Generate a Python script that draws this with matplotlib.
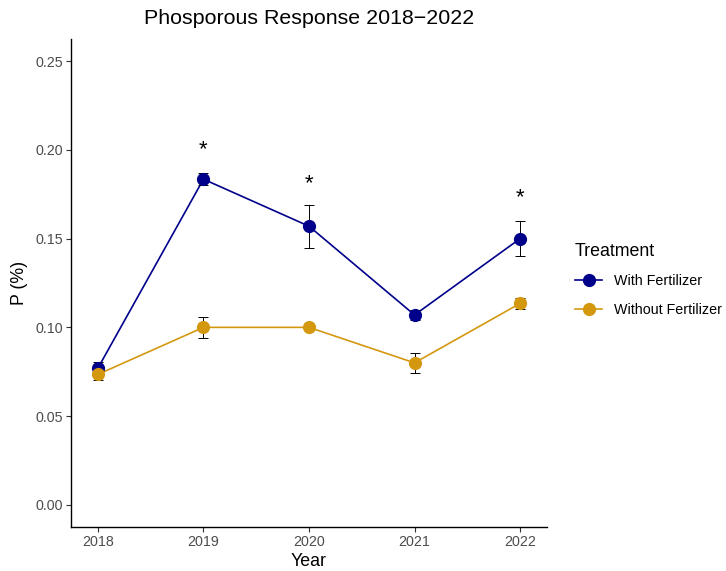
import matplotlib
matplotlib.use("Agg")
import matplotlib.pyplot as plt
from matplotlib.lines import Line2D

plt.rcParams['font.family'] = ['Liberation Sans', 'DejaVu Sans']

years = [2018, 2019, 2020, 2021, 2022]
with_fert = [0.077, 0.1835, 0.157, 0.107, 0.150]
with_fert_se = [0.0035, 0.0035, 0.012, 0.003, 0.010]
without_fert = [0.0735, 0.100, 0.100, 0.080, 0.1135]
without_fert_se = [0.003, 0.0058, 0.0008, 0.0058, 0.003]
star_years = [2019, 2020, 2022]
star_y = [0.2, 0.181, 0.173]
yticks = [0.00, 0.05, 0.10, 0.15, 0.20, 0.25]
ytick_labels = ["0.00", "0.05", "0.10", "0.15", "0.20", "0.25"]

c_with = "#00008B"
c_without = "#D4980F"

fig = plt.figure(figsize=(7.26, 5.71), dpi=100)
ax = fig.add_axes([71/726, 1-527/571, (547-71)/726, (527-39)/571])

for vals, se, col in [(with_fert, with_fert_se, c_with), (without_fert, without_fert_se, c_without)]:
    ax.plot(years, vals, color=col, lw=1.2, zorder=2)
    ax.errorbar(years, vals, yerr=se, fmt='none', ecolor='black', elinewidth=0.7,
                capsize=3.8, capthick=0.7, zorder=3)
    ax.plot(years, vals, 'o', color=col, ms=9.5, zorder=4, markeredgewidth=0)

for x, y in zip(star_years, star_y):
    ax.text(x, y, "*", ha='center', va='center', fontsize=16, color='black')

ax.set_xlim(2017.745, 2022.255)
ax.set_ylim(-0.0125, 0.2625)
ax.set_xticks(years)
ax.set_xticklabels([str(y) for y in years])
ax.set_yticks(yticks)
ax.set_yticklabels(ytick_labels)
ax.tick_params(axis='both', direction='out', length=3.5, width=0.8, color='#333333',
               labelsize=10.3, labelcolor='#4D4D4D', pad=2.5)
for s in ['top', 'right']:
    ax.spines[s].set_visible(False)
for s in ['left', 'bottom']:
    ax.spines[s].set_linewidth(1.0)
    ax.spines[s].set_color('black')

ax.set_xlabel("Year", fontsize=12.8, labelpad=3)
ax.set_ylabel("P (%)", fontsize=12.8, labelpad=5)
ax.set_title("Phosporous Response 2018\u22122022", fontsize=15.4, pad=11)

handles = [
    Line2D([0], [0], color=c_with, lw=1.2, marker='o', ms=9.5, markeredgewidth=0),
    Line2D([0], [0], color=c_without, lw=1.2, marker='o', ms=9.5, markeredgewidth=0),
]
leg = fig.legend(handles, ["With Fertilizer", "Without Fertilizer"], title="Treatment",
                 loc='upper left', bbox_to_anchor=(575/726, 1-243/571), frameon=False,
                 fontsize=10.3, title_fontsize=12.8, handlelength=1.9, handletextpad=0.8,
                 labelspacing=1.05, borderpad=0, borderaxespad=0)
leg._legend_box.align = "left"
leg._legend_box.sep = 10

fig.savefig("out.png", dpi=100)
